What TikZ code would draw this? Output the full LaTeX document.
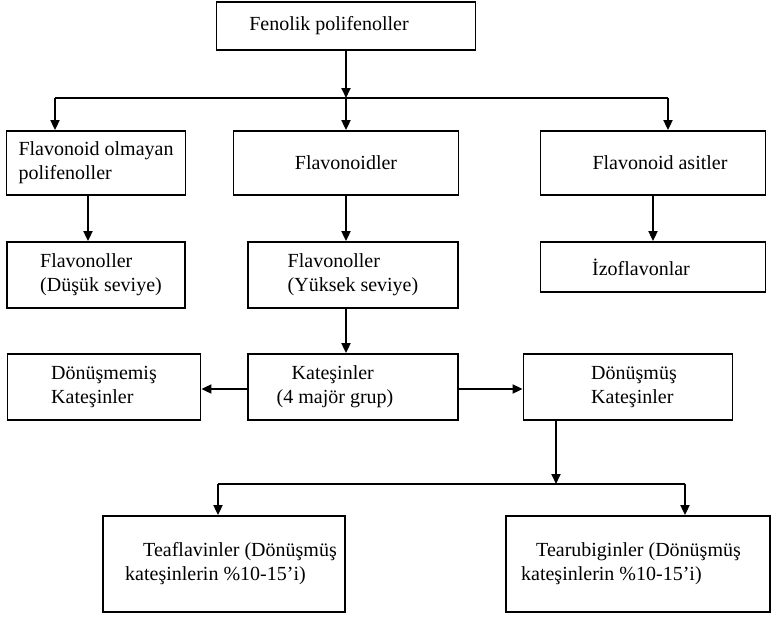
\documentclass[tikz,border=0pt]{standalone}
\usepackage{fontspec}
\setmainfont{Liberation Serif}
\usetikzlibrary{arrows.meta}

\begin{document}
\begin{tikzpicture}[x=1pt, y=-1pt, line width=1.8pt, >={Triangle[length=10pt,width=9pt]}]
  \tikzset{box/.style={draw, align=left, inner sep=0pt, font=\fontsize{20}{24}\selectfont}}
  \useasboundingbox (0,0) rectangle (771,619);

  \node[box, minimum width=259pt, minimum height=48pt] (FP) at (346,26) {Fenolik polifenoller\hspace*{34pt}};

  \node[box, minimum width=179pt, minimum height=64pt] (FL-1) at (96,163) {Flavonoid olmayan\\polifenoller};
  \node[box, minimum width=225pt, minimum height=64pt] (FL-2) at (346,163) {Flavonoidler};
  \node[box, minimum width=225pt, minimum height=64pt] (FL-3) at (653,163) {\hspace*{14pt}Flavonoid asitler};

  \node[box, minimum width=178pt, minimum height=66pt] (FO-1) at (96,275) {\hspace*{10pt}Flavonoller\\\hspace*{10pt}(Düşük seviye)};
  \node[box, minimum width=210pt, minimum height=66pt] (FO-2) at (353,275) {Flavonoller\\(Yüksek seviye)};
  \node[box, minimum width=225pt, minimum height=50pt] (IZ) at (653,267) {İzoflavonlar\hspace*{24pt}};

  \node[box, minimum width=193pt, minimum height=66pt] (KT-1) at (104,387) {Dönüşmemiş\\Kateşinler};
  \node[box, minimum width=210pt, minimum height=66pt] (KT-2) at (353,387) {\hspace*{15pt}Kateşinler\\(4 majör grup)\hspace*{36pt}};
  \node[box, minimum width=209pt, minimum height=66pt] (KT-3) at (628,387) {\hspace*{12pt}Dönüşmüş\\\hspace*{12pt}Kateşinler};

  \node[box, minimum width=242pt, minimum height=96pt] (TF) at (224,564) {\hspace*{32pt}Teaflavinler (Dönüşmüş\\\hspace*{14pt}kateşinlerin \%10-15’i)};
  \node[box, minimum width=264pt, minimum height=96pt] (TR) at (638,564) {\hspace*{15pt}Tearubiginler (Dönüşmüş\hspace*{14pt}\\kateşinlerin \%10-15’i)};

  \coordinate (bus-1-l) at (55,98);
  \coordinate (bus-1-r) at (668,98);
  \coordinate (bus-2-l) at (218,484);
  \coordinate (bus-2-m) at (556,484);
  \coordinate (bus-2-r) at (685,484);

  \draw[->] (FP.south) -- (FP.south |- bus-1-l);
  \draw (bus-1-l) -- (bus-1-r);
  \draw[->] (bus-1-l) -- (bus-1-l |- FL-1.north);
  \draw[->] (FP.south |- bus-1-l) -- (FL-2.north);
  \draw[->] (bus-1-r) -- (bus-1-r |- FL-3.north);

  \draw[->] ([xshift=-8pt]FL-1.south) -- ([xshift=-8pt]FL-1.south |- FO-1.north);
  \draw[->] (FL-2.south) -- (FL-2.south |- FO-2.north);
  \draw[->] (FL-3.south) -- (IZ.north);

  \draw[->] ([xshift=-7pt]FO-2.south) -- ([xshift=-7pt]KT-2.north);
  \draw[->] ([yshift=-2pt]KT-2.west) -- ([yshift=-2pt]KT-1.east);
  \draw[->] ([yshift=-2pt]KT-2.east) -- ([yshift=-2pt]KT-3.west);

  \draw[->] (bus-2-m |- KT-3.south) -- (bus-2-m);
  \draw (bus-2-l) -- (bus-2-r);
  \draw[->] (bus-2-l) -- (bus-2-l |- TF.north);
  \draw[->] (bus-2-r) -- (bus-2-r |- TR.north);
\end{tikzpicture}
\end{document}
